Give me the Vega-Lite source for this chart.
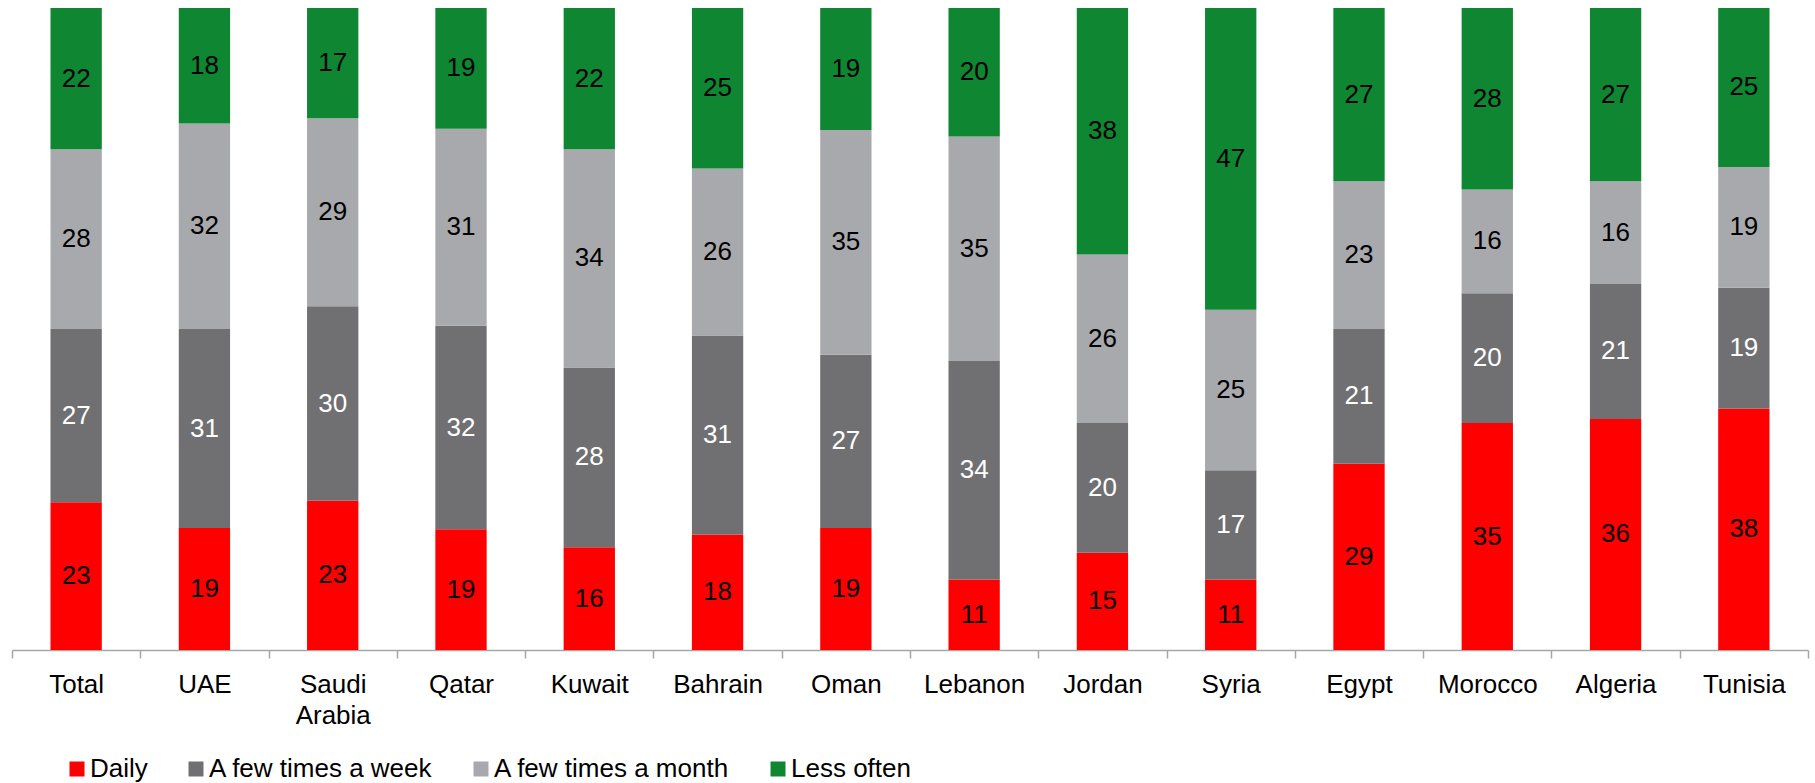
{
  "$schema": "https://vega.github.io/schema/vega-lite/v6.json",
  "width": 1796,
  "height": 642,
  "autosize": "none",
  "padding": {"left": 12, "top": 8, "right": 7, "bottom": 133},
  "background": "white",
  "config": {"view": {"stroke": null}, "font": "Liberation Sans"},
  "data": {
    "values": [
      {"country": "Total", "Daily": 23, "A few times a week": 27, "A few times a month": 28, "Less often": 22},
      {"country": "UAE", "Daily": 19, "A few times a week": 31, "A few times a month": 32, "Less often": 18},
      {"country": "Saudi Arabia", "Daily": 23, "A few times a week": 30, "A few times a month": 29, "Less often": 17},
      {"country": "Qatar", "Daily": 19, "A few times a week": 32, "A few times a month": 31, "Less often": 19},
      {"country": "Kuwait", "Daily": 16, "A few times a week": 28, "A few times a month": 34, "Less often": 22},
      {"country": "Bahrain", "Daily": 18, "A few times a week": 31, "A few times a month": 26, "Less often": 25},
      {"country": "Oman", "Daily": 19, "A few times a week": 27, "A few times a month": 35, "Less often": 19},
      {"country": "Lebanon", "Daily": 11, "A few times a week": 34, "A few times a month": 35, "Less often": 20},
      {"country": "Jordan", "Daily": 15, "A few times a week": 20, "A few times a month": 26, "Less often": 38},
      {"country": "Syria", "Daily": 11, "A few times a week": 17, "A few times a month": 25, "Less often": 47},
      {"country": "Egypt", "Daily": 29, "A few times a week": 21, "A few times a month": 23, "Less often": 27},
      {"country": "Morocco", "Daily": 35, "A few times a week": 20, "A few times a month": 16, "Less often": 28},
      {"country": "Algeria", "Daily": 36, "A few times a week": 21, "A few times a month": 16, "Less often": 27},
      {"country": "Tunisia", "Daily": 38, "A few times a week": 19, "A few times a month": 19, "Less often": 25}
    ]
  },
  "transform": [
    {"fold": ["Daily", "A few times a week", "A few times a month", "Less often"], "as": ["freq", "value"]},
    {"calculate": "indexof(['Daily', 'A few times a week', 'A few times a month', 'Less often'], datum.freq)", "as": "k"}
  ],
  "encoding": {
    "x": {
      "field": "country",
      "type": "nominal",
      "sort": null,
      "scale": {"paddingInner": 0, "paddingOuter": 0},
      "axis": {
        "title": null,
        "labelAngle": 0,
        "tickBand": "extent",
        "domainColor": "#A6A6A6",
        "domainWidth": 1.5,
        "tickColor": "#A6A6A6",
        "tickWidth": 1.5,
        "tickSize": 8,
        "labelFontSize": 26,
        "labelColor": "black",
        "labelPadding": 13,
        "labelLineHeight": 31,
        "labelOverlap": false,
        "labelLimit": 0,
        "labelExpr": "datum.label == 'Saudi Arabia' ? ['Saudi', 'Arabia'] : datum.label"
      }
    }
  },
  "layer": [
    {
      "mark": {"type": "bar", "width": {"band": 0.4}},
      "encoding": {
        "y": {"field": "value", "type": "quantitative", "stack": "normalize", "axis": null, "scale": {"domain": [0, 1]}},
        "color": {
          "field": "freq",
          "type": "nominal",
          "scale": {
            "domain": ["Daily", "A few times a week", "A few times a month", "Less often"],
            "range": ["#FF0000", "#707072", "#A8A9AD", "#0E8632"]
          },
          "legend": {
            "orient": "none",
            "legendX": 52,
            "legendY": 748,
            "direction": "horizontal",
            "title": null,
            "symbolType": "square",
            "symbolSize": 225,
            "symbolStrokeWidth": 0,
            "labelFontSize": 26,
            "labelColor": "black",
            "labelOffset": 0,
            "labelLimit": 0,
            "columnPadding": 35,
            "padding": 0
          }
        },
        "order": {"field": "k"}
      }
    },
    {
      "mark": {"type": "text", "fontSize": 26, "baseline": "middle"},
      "encoding": {
        "y": {"field": "value", "type": "quantitative", "stack": "normalize", "bandPosition": 0.5},
        "detail": {"field": "freq"},
        "order": {"field": "k"},
        "text": {"field": "value", "type": "quantitative"},
        "color": {
          "condition": {"test": "datum.freq === 'A few times a week'", "value": "white"},
          "value": "black"
        }
      }
    }
  ]
}
